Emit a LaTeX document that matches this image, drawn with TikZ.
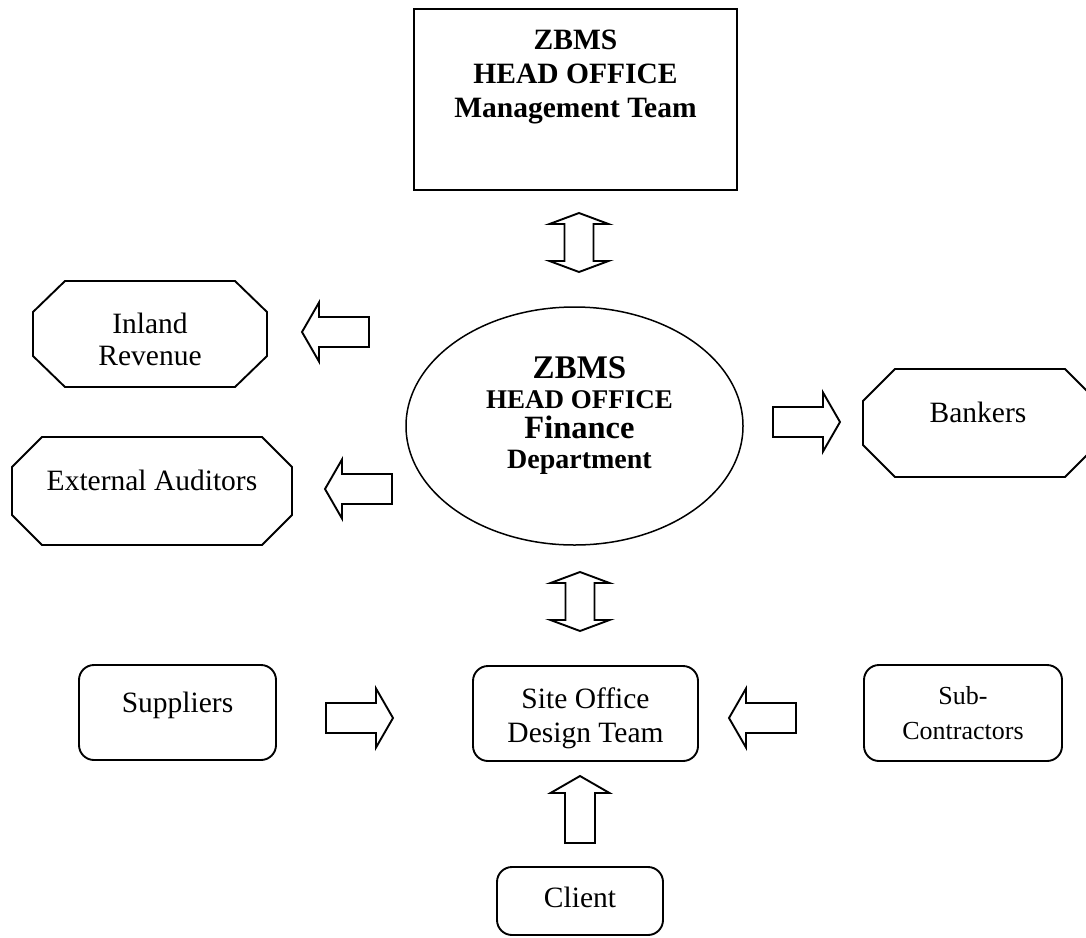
\documentclass[tikz,border=0pt]{standalone}
\usepackage{fontspec}
\setmainfont{Liberation Serif}
\usetikzlibrary{shapes.geometric}

\tikzset{
  frame/.style={draw=black, line width=1.9pt},
  body/.style={font=\fontsize{29.5}{34}\selectfont, align=center, inner sep=0pt, outer sep=0pt},
  heavy/.style={font=\fontsize{29.5}{34}\selectfont\bfseries},
  plainbox/.style={body, frame, rectangle},
  softbox/.style={body, frame, rectangle, rounded corners=15pt},
  octslot/.style={body, rectangle},
  oval/.style={body, ellipse, draw=black, line width=1.5pt},
  arrowline/.style={draw=black, fill=white, line width=1.9pt, line join=miter},
  % single block arrow: tail centre at the origin, pointing along +x
  blockarrow/.pic={
    \draw[arrowline] (0,-15) -- (50,-15) -- (50,-29.5) -- (67,0)
      -- (50,29.5) -- (50,15) -- (0,15) -- cycle;
  },
  % vertical two-headed block arrow, centred at the origin
  twowayarrow/.pic={
    \draw[arrowline] (0,-29.5) -- (29.5,-18.5) -- (14.5,-18.5) -- (14.5,18.5)
      -- (29.5,18.5) -- (0,29.5) -- (-29.5,18.5) -- (-14.5,18.5)
      -- (-14.5,-18.5) -- (-29.5,-18.5) -- cycle;
  }
}

% octagonal outline around a named rectangular node
\newcommand\octframe[3]{%
  \draw[frame] ([xshift=#2pt]#1.north west) -- ([xshift=-#2pt]#1.north east)
    -- ([yshift=-#3pt]#1.north east) -- ([yshift=#3pt]#1.south east)
    -- ([xshift=-#2pt]#1.south east) -- ([xshift=#2pt]#1.south west)
    -- ([yshift=#3pt]#1.south west) -- ([yshift=-#3pt]#1.north west) -- cycle;}

\begin{document}
\begin{tikzpicture}[x=1pt, y=-1pt]
\fill[white] (0,0) rectangle (1086,937);
\useasboundingbox (0,0) rectangle (1086,937);

% head office management
\node[plainbox, minimum width=323, minimum height=181,
  label={[body, heavy, yshift=22.5pt]center:ZBMS\\HEAD OFFICE\\Management Team}]
  (mgmt) at (575.5,99.5) {};

% finance department
\node[oval, minimum width=337, minimum height=238,
  label={[body, font=\fontsize{29}{30}\selectfont\bfseries, xshift=5pt, yshift=10pt]center:{\fontsize{33}{30}\selectfont ZBMS}\\{\fontsize{27}{30}\selectfont HEAD OFFICE}\\{\fontsize{32.5}{30}\selectfont Finance}\\{\fontsize{28}{30}\selectfont Department}}]
  (fin) at (574.5,426) {};

% external parties around the finance department
\node[octslot, minimum width=234, minimum height=106,
  label={[body, font=\fontsize{29.5}{32}\selectfont, yshift=-5pt]center:Inland\\Revenue}]
  (inland) at (150,334) {};
\octframe{inland}{32}{31}

\node[octslot, minimum width=280, minimum height=108,
  label={[body, yshift=11pt]center:External Auditors}]
  (audit) at (152,491) {};
\octframe{audit}{30}{30}

\node[octslot, minimum width=234, minimum height=108,
  label={[body, xshift=-2pt, yshift=11pt]center:Bankers}]
  (bank) at (980,423) {};
\octframe{bank}{32}{32}

% site level
\node[softbox, minimum width=225, minimum height=95,
  label={[body, yshift=-4.5pt]center:Site Office\\Design Team}]
  (site) at (585.5,713.5) {};

\node[softbox, minimum width=197, minimum height=95,
  label={[body, yshift=7pt]center:Suppliers}]
  (supp) at (177.5,712.5) {};

\node[softbox, font=\fontsize{26}{35}\selectfont, minimum width=198, minimum height=96]
  (sub) at (963,713) {Sub-\\Contractors};

\node[softbox, minimum width=166, minimum height=68,
  label={[body, yshift=4pt]center:Client}]
  (client) at (580,901) {};

% flows
\pic at (579,242.5) {twowayarrow};
\pic at (580,601.5) {twowayarrow};
\pic[rotate=180] at (369,332) {blockarrow};
\pic[rotate=180] at (392,489) {blockarrow};
\pic at (773,422) {blockarrow};
\pic at (326,718) {blockarrow};
\pic[rotate=180] at (796,718) {blockarrow};
\pic[rotate=90] at (580,843) {blockarrow};
\end{tikzpicture}
\end{document}
